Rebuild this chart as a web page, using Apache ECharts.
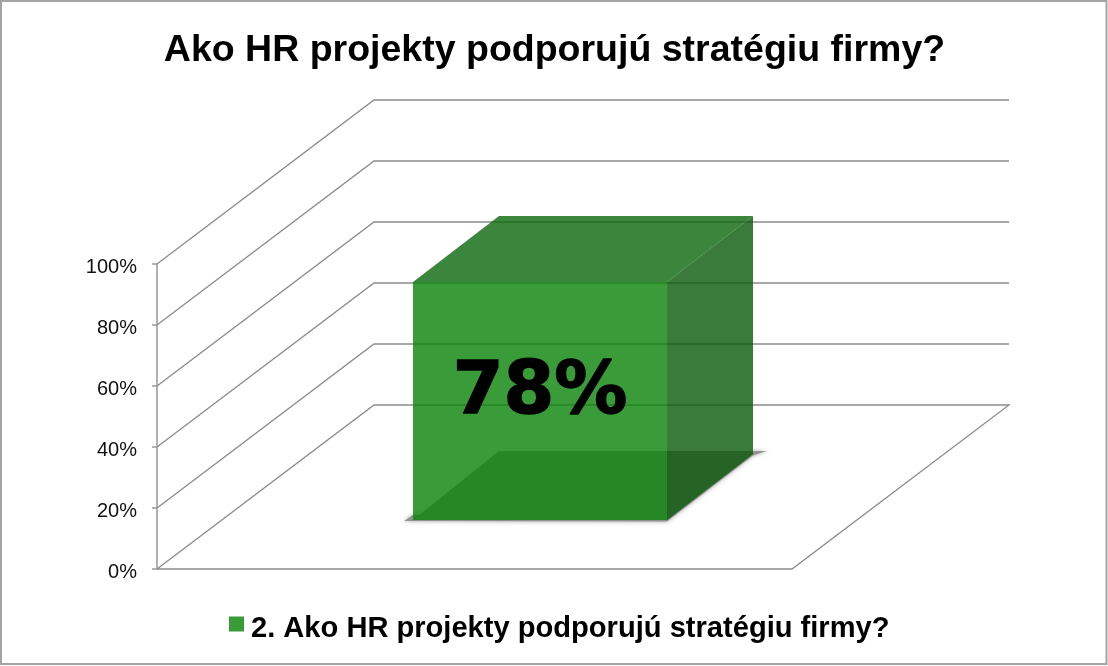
<!DOCTYPE html>
<html>
<head>
<meta charset="utf-8">
<style>html,body{margin:0;padding:0;background:#fff}#c{width:1108px;height:666px}</style>
<script src="https://cdn.jsdelivr.net/npm/echarts@6/dist/echarts.min.js"></script>
</head>
<body>
<div id="c"></div>
<script>
var titleText = 'Ako HR projekty podporujú stratégiu firmy?';
var seriesName = '2. Ako HR projekty podporujú stratégiu firmy?';
var categories = ['Ako HR projekty podporujú stratégiu firmy?'];
var values = [78];
var ticks = [0, 20, 40, 60, 80, 100];

var DX = 217, DY = 164;           // 3D depth of the plot box
var BAR_FRONT = 0.3, BAR_BACK = 0.7, BAR_W = 0.4;
var GRID = '#8c8c8c', FONT = '"Liberation Sans", Arial, sans-serif';

function wallItem(params, api) {
  var t = api.value(1);
  var p = api.coord([0, t]);
  var size = api.size([1, 0]);
  var x0 = p[0] - size[0] / 2, y = p[1];
  var x1 = x0 + size[0];
  var style = { stroke: GRID, lineWidth: 1.3, fill: null };
  var pts = [[x0, y], [x0 + DX, y - DY], [x1 + DX, y - DY]];
  if (t === 0) pts = [[x0, y], [x0 + DX, y - DY], [x1 + DX, y - DY], [x1, y], [x0, y]];
  return { type: 'polyline', shape: { points: pts }, style: style, silent: true };
}

function barItem(params, api) {
  var base = api.coord([api.value(0), 0]);
  var top = api.coord([api.value(0), api.value(1)]);
  var w = api.size([1, 0])[0] * BAR_W;
  var cx = base[0];
  function P(side, depth, atTop) {
    return [Math.round(cx + side * w / 2 + DX * depth), Math.round((atTop ? top[1] : base[1]) - DY * depth)];
  }
  var fl = P(-1, BAR_FRONT, 0), fr = P(1, BAR_FRONT, 0), bl = P(-1, BAR_BACK, 0), br = P(1, BAR_BACK, 0);
  var tl = P(-1, BAR_FRONT, 1), tr = P(1, BAR_FRONT, 1), ul = P(-1, BAR_BACK, 1), ur = P(1, BAR_BACK, 1);
  function poly(points, fill, extra) {
    var st = { fill: fill, stroke: null };
    for (var k in (extra || {})) st[k] = extra[k];
    return { type: 'polygon', shape: { points: points }, style: st, silent: true };
  }
  var floorY = bl[1] - 3;
  return {
    type: 'group',
    children: [
      // soft shadow along the lower front edge and the right side
      poly([[fl[0] - 9, fl[1] + 1], [fr[0], fr[1] + 1.5], [br[0], br[1] + 1.5], [br[0] + 14, floorY], [br[0], floorY], [fr[0], fr[1] - 3], [fl[0], fl[1] - 5]],
        'rgba(130,130,130,0.8)', { shadowBlur: 4, shadowColor: 'rgba(110,110,110,0.8)' }),
      poly([ul, ur, tr, tl], 'rgba(11,102,11,0.8)'),
      poly([tr, ur, br, fr], 'rgba(9,89,10,0.8)'),
      poly([tl, tr, fr, fl], 'rgba(8,131,8,0.8)'),
      // floor of the box, seen through the front and right faces
      poly([fl, fr, [fr[0], floorY], [bl[0], floorY]], '#258825'),
      poly([fr, br, [br[0], floorY], [fr[0], floorY]], '#256425'),
      {
        type: 'text', silent: true,
        style: {
          text: api.value(1) + '%',
          x: (tl[0] + fr[0]) / 2, y: (tl[1] + fr[1]) / 2 - 7,
          align: 'center', verticalAlign: 'middle',
          font: 'bold 73px "DejaVu Sans", Verdana, sans-serif',
          fill: '#000', stroke: '#000', lineWidth: 1.5
        }
      }
    ]
  };
}

var chart = echarts.init(document.getElementById('c'), null, { renderer: 'canvas' });
chart.setOption({
  animation: false,
  backgroundColor: '#fff',
  title: {
    text: titleText, left: 549.5, top: 27, textAlign: 'center',
    textStyle: { fontFamily: FONT, fontWeight: 'bold', fontSize: 37.5, color: '#000' }
  },
  legend: {
    data: [{ name: seriesName, icon: 'path://M0,0H15V15H0Z M0,25H0.01V25.01H0Z' }],
    left: 224, top: 609.5, itemWidth: 15, itemHeight: 25, itemGap: 8,
    selectedMode: false,
    formatter: '{t|{name}}',
    textStyle: {
      rich: { t: { fontFamily: FONT, fontWeight: 'bold', fontSize: 29.1, color: '#000', padding: [0, 0, 0, 2] } }
    }
  },
  grid: { left: 157, top: 264, width: 635, height: 305, containLabel: false },
  xAxis: { type: 'category', data: categories, show: false },
  yAxis: {
    type: 'value', min: 0, max: 100, interval: 20,
    axisLine: { show: true, lineStyle: { color: '#999', width: 1.5 } },
    axisTick: { show: true, length: 5, lineStyle: { color: '#999', width: 1.5 } },
    splitLine: { show: false },
    axisLabel: {
      formatter: '{t|{value}%}', margin: 20,
      rich: { t: { color: '#111', fontFamily: FONT, fontSize: 20, padding: [6, 0, 0, 0] } }
    }
  },
  graphic: [{
    type: 'rect', silent: true, z: 100,
    shape: { x: 1, y: 1, width: 1105.5, height: 663 },
    style: { fill: null, stroke: '#a3a3a3', lineWidth: 2 }
  }],
  series: [
    {
      type: 'custom', name: 'walls', z: 1, renderItem: wallItem, clip: false,
      encode: { x: 0, y: 1 }, silent: true,
      data: ticks.map(function (t) { return [0, t]; })
    },
    {
      type: 'custom', name: seriesName, z: 2, renderItem: barItem, clip: false,
      encode: { x: 0, y: 1 },
      itemStyle: { color: '#399c39' },
      data: values.map(function (v, i) { return [i, v]; })
    }
  ]
});
</script>
</body>
</html>
